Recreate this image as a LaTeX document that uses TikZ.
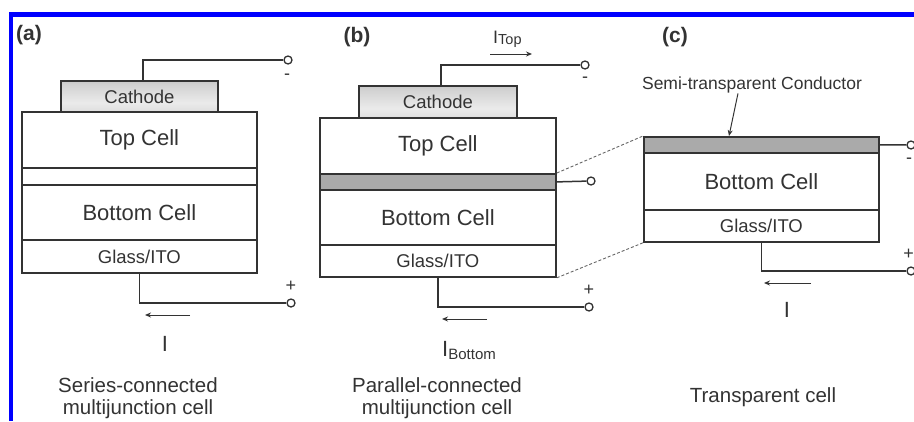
\documentclass[tikz,border=0pt]{standalone}
\usepackage{fontspec}
\setmainfont{Liberation Sans}
\usetikzlibrary{arrows.meta}
\definecolor{ink}{HTML}{333333}
\definecolor{frameblue}{HTML}{0000FF}
\definecolor{layergray}{HTML}{AAAAAA}
\pgfdeclareverticalshading{cathshade}{100bp}{color(0bp)=(black!48); color(22bp)=(black!14); color(40bp)=(black!8); color(70bp)=(black!18); color(100bp)=(black!38)}
\begin{document}
\begin{tikzpicture}[x=1pt,y=-1pt,
  layer/.style={draw=ink, line width=1.8pt, inner sep=0pt, anchor=north west, text=ink,
    font=\fontsize{22}{22}\selectfont},
  thinlayer/.style={layer, font=\fontsize{18.5}{18.5}\selectfont},
  cathode/.style={thinlayer, shading=cathshade},
  graylayer/.style={layer, fill=layergray},
  term/.style={circle, draw=ink, line width=1.3pt, fill=white, minimum size=8pt, inner sep=0pt},
  wire/.style={draw=ink, line width=1.5pt},
  cur/.style={draw=ink, line width=1pt, -{Stealth[length=6pt,width=5pt]}},
  lab/.style={text=ink, inner sep=0pt},
  panel/.style={lab, font=\fontsize{21}{21}\selectfont\bfseries},
  sign/.style={lab, font=\fontsize{18}{18}\selectfont},
  caption/.style={lab, align=center, font=\fontsize{20.5}{22}\selectfont},
  guide/.style={draw=black!60, line width=0.9pt, dash pattern=on 3pt off 2pt}
]
\useasboundingbox (0,0) rectangle (914,421);
% blue frame (top and left)
\draw[frameblue, line width=4.5pt] (10.8,421) -- (10.8,14.3) -- (914,14.3);

% ---------------- panel (a) ----------------
\node[panel] (pa) at (29,35) {(a)};
\node[cathode, minimum width=157pt, minimum height=31pt] (aCath) at (60,80) {Cathode};
\node[layer, minimum width=235pt, minimum height=56pt] (aTop) at (21,111) {Top Cell};
\node[layer, minimum width=235pt, minimum height=17pt] (aMid) at (21,167) {};
\node[layer, minimum width=235pt, minimum height=55pt] (aBot) at (21,184) {Bottom Cell};
\node[thinlayer, minimum width=235pt, minimum height=33pt] (aGlass) at (21,239) {Glass/ITO};
\node[term] (aNeg) at (288,60) {};
\node[term] (aPos) at (291,303) {};
\node[sign] (aMinus) at (287,77) {-};
\node[sign] (aPlus) at (291,286) {+};
\draw[wire] ([xshift=3.5pt]aCath.north) |- (aNeg);
\draw[wire] (aGlass.south) |- (aPos);
\coordinate (aA1) at (190,315);
\coordinate (aA2) at (145,315);
\draw[cur] (aA1) -- (aA2);
\node[lab, font=\fontsize{22}{22}\selectfont] (aI) at (165,343.5) {I};
\node[caption] (aCap) at (138,398.5) {Series-connected\\multijunction cell};

% ---------------- panel (b) ----------------
\node[panel] (pb) at (357,37) {(b)};
\node[cathode, minimum width=158pt, minimum height=32pt] (bCath) at (358,85) {Cathode};
\node[layer, minimum width=236pt, minimum height=56pt] (bTop) at (319,117) {Top Cell};
\node[graylayer, minimum width=236pt, minimum height=16pt] (bMid) at (319,173) {};
\node[layer, minimum width=236pt, minimum height=55pt] (bBot) at (319,189) {Bottom Cell};
\node[thinlayer, minimum width=236pt, minimum height=32pt] (bGlass) at (319,244) {Glass/ITO};
\node[term] (bNeg) at (585,65) {};
\node[term] (bMidT) at (591,181) {};
\node[term] (bPos) at (589,307) {};
\node[sign] (bMinus) at (585,80) {-};
\node[sign] (bPlus) at (589,290) {+};
\draw[wire] ([xshift=3pt]bCath.north) |- (bNeg);
\draw[wire] (bMid.east) -- (bMidT);
\draw[wire] (bGlass.south) |- (bPos);
\node[lab, anchor=base west, font=\fontsize{18}{18}\selectfont] (bITop) at (493,43)
  {I{\fontsize{14.5}{14.5}\selectfont\raisebox{-1pt}{Top}}};
\coordinate (bT1) at (490,54);
\coordinate (bT2) at (532,54);
\draw[cur] (bT1) -- (bT2);
\coordinate (bB1) at (487,319);
\coordinate (bB2) at (442,319);
\draw[cur] (bB1) -- (bB2);
\node[lab, anchor=base west, font=\fontsize{22}{22}\selectfont] (bIBot) at (442,356)
  {I{\fontsize{15}{15}\selectfont\raisebox{-3pt}{Bottom}}};
\node[caption] (bCap) at (437,398) {Parallel-connected\\multijunction cell};

% ---------------- panel (c) ----------------
\node[panel] (pc) at (675,37) {(c)};
\node[graylayer, minimum width=235pt, minimum height=16pt] (cMid) at (643,136) {};
\node[layer, minimum width=235pt, minimum height=57pt] (cBot) at (643,152) {Bottom Cell};
\node[thinlayer, minimum width=235pt, minimum height=32pt] (cGlass) at (643,209) {Glass/ITO};
\node[term] (cNeg) at (911,145) {};
\node[term] (cPos) at (911,271) {};
\node[sign] (cMinus) at (909,161) {-};
\node[sign] (cPlus) at (908.5,254) {+};
\draw[wire] (cMid.east) -- (cNeg);
\draw[wire] (cGlass.south) |- (cPos);
\node[lab, font=\fontsize{17.5}{17.5}\selectfont] (cSemi) at (752,85) {Semi-transparent Conductor};
\draw[cur] ([xshift=-14pt]cSemi.south) -- (cMid.north -| 729,0);
\coordinate (cC1) at (811,283);
\coordinate (cC2) at (764,283);
\draw[cur] (cC1) -- (cC2);
\node[lab, font=\fontsize{22}{22}\selectfont] (cI) at (787,310) {I};
\node[caption] (cCap) at (763,397) {Transparent cell};

% dashed guide lines
\draw[guide] (bMid.north east) -- (cMid.north west);
\draw[guide] (bGlass.south east) -- (cGlass.south west);
\end{tikzpicture}
\end{document}
